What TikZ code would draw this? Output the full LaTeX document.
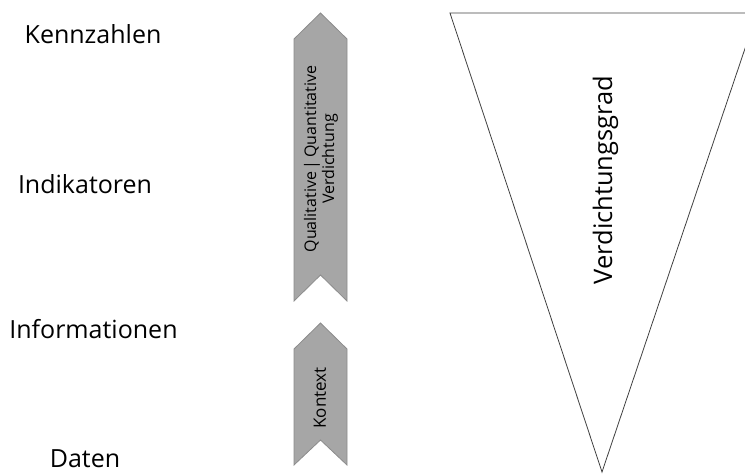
\documentclass[tikz,border=0pt]{standalone}
\usepackage{fontspec}
\setmainfont{Open Sans}
\begin{document}
\begin{tikzpicture}[x=1pt,y=-1pt,
  lbl/.style={font=\fontsize{25}{29}\selectfont, inner sep=0pt, anchor=base},
  chev/.style={fill=chevfill, draw=chevdraw, line width=0.8pt, line join=miter},
  chevtxt/.style={font=\fontsize{16}{18}\selectfont, rotate=90, align=center, inner sep=0pt}]
\definecolor{chevfill}{HTML}{A6A6A6}
\definecolor{chevdraw}{HTML}{8C8C8C}
\useasboundingbox (0,0) rectangle (745,474);
% labels
\node[lbl] (kenn) at (93,43) {Kennzahlen};
\node[lbl] (indi) at (85,193) {Indikatoren};
\node[lbl] (info) at (93.5,338) {Informationen};
\node[lbl] (dat) at (85,467) {Daten};
% chevron 1
\draw[chev] (294,39) -- (320.5,13) -- (347,39) -- (347,301) -- (320.5,275) -- (294,301) -- cycle;
\node[chevtxt] (qual) at (321,159) {Qualitative\,|\,Quantitative\\Verdichtung};
% chevron 2
\draw[chev] (294,349) -- (320.5,323) -- (347,349) -- (347,465) -- (320.5,440) -- (294,465) -- cycle;
\node[chevtxt, font=\fontsize{17}{20}\selectfont] (kont) at (320,398) {Kontext};
% triangle
\begin{scope}
\clip (0,0) rectangle (745,474);
\draw[draw=black!75, line width=0.8pt, line join=miter] (450,13) -- (757,13) -- (602,472) -- cycle;
\end{scope}
\node[lbl, font=\fontsize{25.5}{29}\selectfont, rotate=90, anchor=base] (verd) at (612,180) {Verdichtungsgrad};
\end{tikzpicture}
\end{document}
